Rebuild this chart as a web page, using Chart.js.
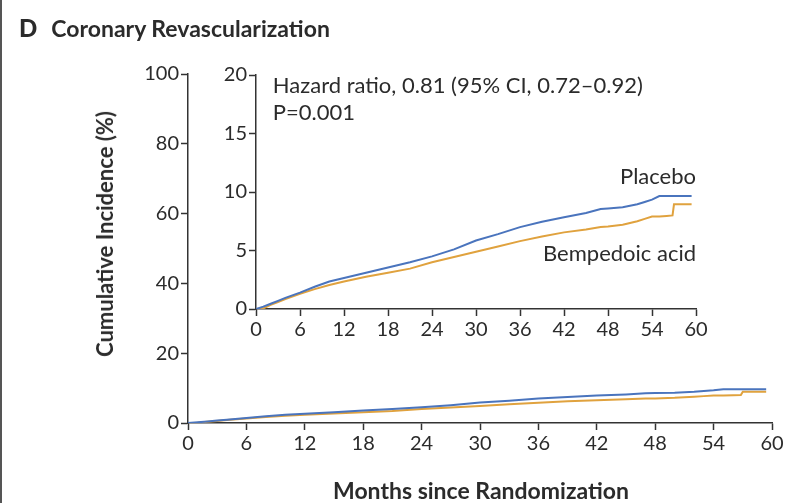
<!DOCTYPE html>
<html>
<head>
<meta charset="utf-8">
<script src="https://cdn.jsdelivr.net/npm/chart.js@4.4.1/dist/chart.umd.min.js"></script>
<style>
  html, body { margin: 0; padding: 0; background: #fff; }
  #wrap { position: relative; width: 790px; height: 503px; overflow: hidden; }
  #wrap::before { content: ""; position: absolute; left: 0; top: 0; bottom: 0; width: 2px; background: #555; }
  #mainChart { position: absolute; left: 0; top: 0; }
  #insetChart { position: absolute; left: 200px; top: 50px; }
  .txt { position: absolute; font-family: Lato, "Open Sans", sans-serif; color: #2b2b2b; white-space: nowrap; line-height: 1; }
  #panel { left: 19px; top: 16px; font-size: 23px; font-weight: bold; }
  #panel b { margin-right: 14px; font-size: 24px; }
  #ytitle { left: 105px; top: 234px; font-size: 22px; font-weight: bold; transform: translate(-50%, -50%) rotate(-90deg); }
  #xtitle { left: 481px; top: 490px; font-size: 23px; font-weight: bold; transform: translate(-50%, -50%); }
</style>
</head>
<body>
<div id="wrap">
  <canvas id="mainChart" width="790" height="503"></canvas>
  <canvas id="insetChart" width="520" height="300"></canvas>
  <div class="txt" id="panel"><b>D</b>Coronary Revascularization</div>
  <div class="txt" id="ytitle">Cumulative Incidence (%)</div>
  <div class="txt" id="xtitle">Months since Randomization</div>
</div>
<script>
// months since randomization
const months = [0, 1, 2, 3, 4, 6, 8, 10, 12, 15, 18, 21, 24, 27, 30, 33, 36, 39, 42, 45, 47, 48, 50, 52, 53, 54, 55, 56, 56.8, 57, 59.4];
// cumulative incidence (%)
const placebo   = [0, 0.2, 0.45, 0.7, 0.95, 1.4, 1.9, 2.35, 2.65, 3.1, 3.55, 4.0, 4.5, 5.1, 5.85, 6.4, 7.0, 7.45, 7.85, 8.2, 8.55, 8.6, 8.7, 8.95, 9.15, 9.35, 9.65, 9.65, 9.65, 9.65, 9.65];
const bempedoic = [0, 0.05, 0.35, 0.6, 0.85, 1.3, 1.7, 2.05, 2.35, 2.75, 3.1, 3.45, 4.0, 4.45, 4.9, 5.35, 5.8, 6.2, 6.55, 6.8, 7.0, 7.05, 7.2, 7.5, 7.7, 7.9, 7.9, 7.95, 8.0, 8.95, 8.95];

const mainYTicks = [0, 20, 40, 60, 80, 100];
const insetYTicks = [0, 5, 10, 15, 20];
const xTicks = [0, 6, 12, 18, 24, 30, 36, 42, 48, 54, 60];

const hazardText = "Hazard ratio, 0.81 (95% CI, 0.72\u20130.92)";
const pText = "P=0.001";

const BLUE = '#4a74bd';
const ORANGE = '#e0a23e';
const AXIS = '#333';
const tickFont = { family: 'Lato, "Open Sans", sans-serif', size: 20 };

function toPoints(ys) {
  return months.map((m, i) => ({ x: m, y: ys[i] }));
}

function makeDatasets() {
  return [
    { label: 'Placebo', data: toPoints(placebo), borderColor: BLUE, borderWidth: 2, pointRadius: 0, tension: 0, fill: false },
    { label: 'Bempedoic acid', data: toPoints(bempedoic), borderColor: ORANGE, borderWidth: 2, pointRadius: 0, tension: 0, fill: false }
  ];
}

function axis(min, max, ticks, size, horizontal) {
  return {
    type: 'linear', min: min, max: max,
    afterBuildTicks: s => { s.ticks = ticks.map(v => ({ value: v })); },
    afterFit: s => { if (horizontal) s.height = size; else s.width = size; },
    border: { display: true, color: AXIS, width: 1.5 },
    grid: { drawOnChartArea: false, color: AXIS, tickLength: 7, tickWidth: 1.5 },
    ticks: { color: '#2b2b2b', font: tickFont, padding: 2, maxRotation: 0, autoSkip: false }
  };
}

new Chart(document.getElementById('mainChart'), {
  type: 'line',
  data: { datasets: makeDatasets() },
  options: {
    responsive: false,
    animation: false,
    layout: { padding: { top: 74, right: 18, bottom: 0, left: 0 } },
    plugins: { legend: { display: false }, tooltip: { enabled: false } },
    scales: {
      x: axis(0, 60, xTicks, 80, true),
      y: axis(0, 100, mainYTicks, 188, false)
    }
  }
});

const insetLabels = {
  id: 'insetLabels',
  afterDraw(chart) {
    const { ctx, scales: { x, y } } = chart;
    ctx.save();
    ctx.fillStyle = '#2b2b2b';
    ctx.font = '22px Lato, "Open Sans", sans-serif';
    ctx.textBaseline = 'middle';
    ctx.textAlign = 'left';
    ctx.fillText(hazardText, x.getPixelForValue(2.3), y.getPixelForValue(19.05));
    ctx.fillText(pText, x.getPixelForValue(2.3), y.getPixelForValue(16.75));
    ctx.textAlign = 'right';
    ctx.fillText('Placebo', x.getPixelForValue(60), y.getPixelForValue(11.3));
    ctx.fillText('Bempedoic acid', x.getPixelForValue(60), y.getPixelForValue(4.7));
    ctx.restore();
  }
};

new Chart(document.getElementById('insetChart'), {
  type: 'line',
  data: { datasets: makeDatasets() },
  options: {
    responsive: false,
    animation: false,
    layout: { padding: { top: 25, right: 24, bottom: 0, left: 0 } },
    plugins: { legend: { display: false }, tooltip: { enabled: false } },
    scales: {
      x: axis(0, 60, xTicks, 41, true),
      y: axis(0, 20, insetYTicks, 56, false)
    }
  },
  plugins: [insetLabels]
});
</script>
</body>
</html>
